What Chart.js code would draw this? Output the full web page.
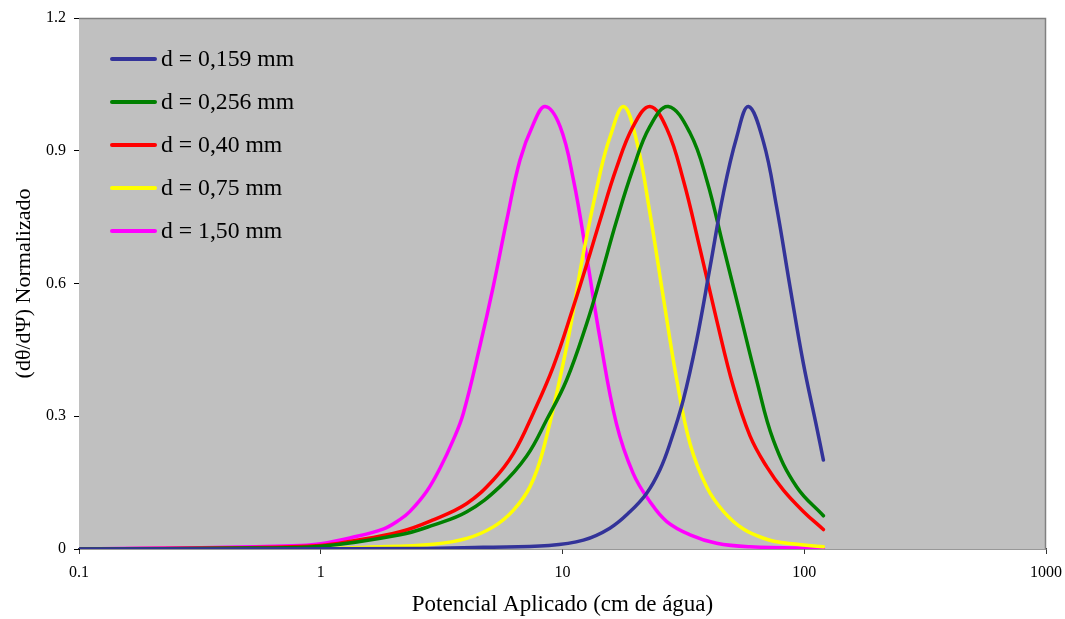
<!DOCTYPE html>
<html>
<head>
<meta charset="utf-8">
<script src="https://cdn.jsdelivr.net/npm/chart.js@4"></script>
<style>
    body { margin: 0; background: #fff; }
    #wrap { position: relative; width: 1065px; height: 619px; }
    #legend {
        position: absolute;
        left: 110px;
        top: 37px;
        font-family: "Liberation Serif", "Times New Roman", serif;
        font-size: 23.7px;
        color: #000;
    }
    .row { display: flex; align-items: center; height: 43px; }
    .swatch { width: 47px; height: 4px; margin-right: 4px; border-radius: 2px; }
</style>
</head>
<body>
<div id="wrap">
    <canvas id="chart"></canvas>
    <div id="legend"></div>
</div>
<script>
// =============================
// DATA
// =============================
const seriesNames = ["d = 0,159 mm", "d = 0,256 mm", "d = 0,40 mm", "d = 0,75 mm", "d = 1,50 mm"];
const seriesColors = ["#333399", "#008000", "#FF0000", "#FFFF00", "#FF00FF"];

const x159 = [0.1, 2.5, 4.7, 8.8, 12.2, 15.7, 19.0, 22.3, 25.3, 27.9, 31.6, 35.9, 40.8, 46.3, 52.5, 58.8, 67.8, 76.8, 87.3, 99.1, 112.5, 120];
const y159 = [0, 0.001, 0.004, 0.008, 0.02, 0.047, 0.084, 0.126, 0.179, 0.24, 0.337, 0.472, 0.638, 0.804, 0.93, 1.0, 0.92, 0.774, 0.593, 0.42, 0.276, 0.201];

const x256 = [0.1, 0.5, 1.0, 2.13, 2.92, 4.02, 5.51, 7.11, 8.6, 10.4, 12.6, 14.3, 16.7, 19.6, 23.0, 27.4, 33.7, 39.5, 46.3, 54.2, 63.5, 74.5, 93.1, 120];
const y256 = [0, 0.002, 0.006, 0.032, 0.054, 0.084, 0.141, 0.21, 0.292, 0.382, 0.51, 0.61, 0.74, 0.86, 0.955, 1.0, 0.94, 0.834, 0.683, 0.533, 0.382, 0.246, 0.14, 0.075];

const x40 = [0.1, 0.5, 1.0, 1.32, 2.13, 2.92, 4.02, 5.17, 6.27, 7.57, 9.16, 11.1, 13.0, 14.3, 16.7, 19.6, 23.0, 27.0, 31.6, 37.0, 43.4, 50.9, 59.7, 69.9, 82.0, 99.1, 120];
const y40 = [0, 0.003, 0.008, 0.017, 0.039, 0.066, 0.103, 0.156, 0.216, 0.307, 0.412, 0.548, 0.668, 0.743, 0.86, 0.955, 1.0, 0.95, 0.834, 0.68, 0.518, 0.367, 0.255, 0.186, 0.133, 0.085, 0.044];

const x75 = [0.1, 1.0, 1.55, 2.92, 4.02, 5.17, 6.27, 7.34, 8.33, 10.4, 12.2, 14.3, 15.7, 17.9, 20.3, 23.0, 26.1, 29.7, 33.7, 39.5, 46.3, 56.0, 69.9, 82.0, 120];
const y75 = [0, 0.001, 0.004, 0.011, 0.024, 0.05, 0.088, 0.141, 0.225, 0.457, 0.668, 0.849, 0.93, 1.0, 0.92, 0.759, 0.57, 0.382, 0.238, 0.14, 0.085, 0.045, 0.022, 0.014, 0.005];

const x150 = [0.1, 0.32, 0.51, 0.82, 1.0, 1.32, 1.81, 2.13, 2.34, 2.74, 3.11, 3.53, 3.89, 4.56, 5.17, 5.88, 6.67, 7.57, 8.47, 9.77, 11.1, 12.6, 14.3, 16.7, 19.6, 23.0, 27.0, 33.7, 43.4, 59.7, 120];
const y150 = [0, 0.003, 0.005, 0.008, 0.012, 0.025, 0.045, 0.067, 0.085, 0.13, 0.182, 0.246, 0.307, 0.46, 0.593, 0.743, 0.879, 0.96, 1.0, 0.955, 0.834, 0.66, 0.475, 0.284, 0.171, 0.107, 0.062, 0.032, 0.013, 0.005, 0.001];

const xTicks = [0.1, 1, 10, 100, 1000];
const xTickLabels = ["0.1", "1", "10", "100", "1000"];
const yTicks = [0, 0.3, 0.6, 0.9, 1.2];
const yTickLabels = ["0", "0.3", "0.6", "0.9", "1.2"];

const xTitle = "Potencial Aplicado (cm de água)";
const yTitle = "(dθ/dΨ) Normalizado";

// =============================
// BUILD
// =============================
const allX = [x159, x256, x40, x75, x150];
const allY = [y159, y256, y40, y75, y150];

function toPoints(xs, ys) {
    return xs.map((x, i) => ({ x, y: ys[i] }));
}

const datasets = seriesNames.map((name, i) => ({
    label: name,
    data: toPoints(allX[i], allY[i]),
    borderColor: seriesColors[i],
    borderWidth: 3.5,
    borderCapStyle: "round",
    borderJoinStyle: "round",
    pointRadius: 0,
    fill: false,
    tension: 0.4
}));

// plot area background + frame
const plotFrame = {
    id: "plotFrame",
    beforeDatasetsDraw(chart) {
        const { ctx, chartArea: a } = chart;
        ctx.save();
        ctx.fillStyle = "#C0C0C0";
        ctx.fillRect(a.left, a.top, a.right - a.left, a.bottom - a.top);
        ctx.strokeStyle = "#808080";
        ctx.lineWidth = 1.5;
        ctx.beginPath();
        ctx.moveTo(a.left, a.top + 0.5);
        ctx.lineTo(a.right - 0.5, a.top + 0.5);
        ctx.lineTo(a.right - 0.5, a.bottom);
        ctx.stroke();
        ctx.restore();
    }
};

const serif = "'Liberation Serif', 'Times New Roman', serif";
Chart.defaults.font.family = serif;
Chart.defaults.color = "#000";

new Chart(document.getElementById("chart"), {
    type: "line",
    data: { datasets },
    plugins: [plotFrame],
    options: {
        responsive: true,
        maintainAspectRatio: false,
        animation: false,
        layout: { padding: { top: 18, right: 19, left: 0, bottom: 0 } },
        plugins: {
            legend: { display: false },
            tooltip: { enabled: false }
        },
        scales: {
            x: {
                type: "logarithmic",
                min: 0.1,
                max: 1000,
                afterBuildTicks: s => { s.ticks = xTicks.map(v => ({ value: v })); },
                afterFit: s => { s.height = 70; s.paddingLeft = 0; s.paddingRight = 0; },
                ticks: {
                    font: { size: 16 },
                    padding: 9,
                    maxRotation: 0,
                    callback: (v, i) => xTickLabels[i]
                },
                grid: { drawOnChartArea: false, drawTicks: true, tickLength: 5, tickColor: "#333" },
                border: { color: "#333", width: 1.5 },
                title: { display: true, text: xTitle, font: { size: 23 }, padding: { top: 0, bottom: 0 } }
            },
            y: {
                min: 0,
                max: 1.2,
                afterBuildTicks: s => { s.ticks = yTicks.map(v => ({ value: v })); },
                afterFit: s => { s.width = 79; s.paddingTop = 0; s.paddingBottom = 0; },
                ticks: {
                    font: { size: 16 },
                    padding: 8,
                    callback: (v, i) => yTickLabels[i]
                },
                grid: { drawOnChartArea: false, drawTicks: true, tickLength: 5, tickColor: "#000" },
                border: { color: "#000", width: 1 },
                title: { display: true, text: yTitle, font: { size: 22 }, padding: { top: 11, bottom: 0 } }
            }
        }
    }
});

// =============================
// LEGEND (html, inside plot)
// =============================
document.getElementById("legend").innerHTML = seriesNames.map((name, i) => `
    <div class="row">
        <div class="swatch" style="background:${seriesColors[i]}"></div>
        <span>${name}</span>
    </div>
`).join("");
</script>
</body>
</html>
